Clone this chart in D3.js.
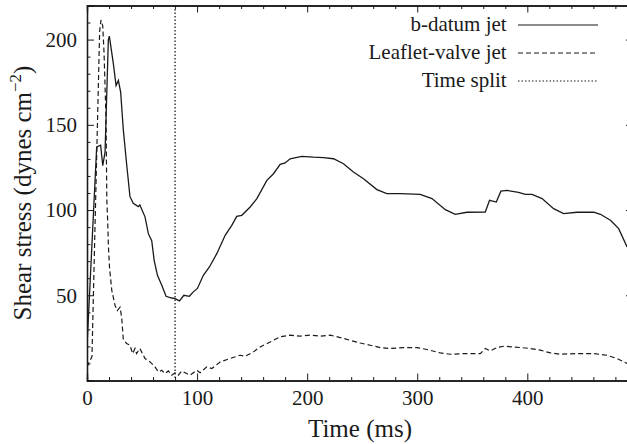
<!DOCTYPE html>
<html>
<head>
<meta charset="utf-8">
<script src="https://cdn.jsdelivr.net/npm/d3@7"></script>
<style>
  body { margin: 0; background: #fff; }
  svg { display: block; font-family: "Liberation Serif", "Times New Roman", serif; }
</style>
</head>
<body>
<div id="chart"></div>
<script>
// shear stress over time, two jets
const bDatumT = [0, 8.8, 12.4, 14.3, 16.4, 19.4, 20.3, 23.9, 26.4, 28.5, 30.6, 33, 36, 39, 42, 46.6, 48, 52.7, 55.8, 58.8,
  61, 64, 67.9, 71.8, 77, 80, 84, 88, 93, 96.6, 100.3, 105.7, 111.2, 117.9, 125.5, 131.5, 136, 140.6, 148.2, 154.3,
  163.4, 169.4, 175.5, 180, 184.5, 195.2, 205.7, 214.8, 223.9, 233, 242, 251.2, 263.3, 272.4, 284.5, 302.7, 313.4,
  325.5, 334.5, 345.2, 361.8, 365.7, 371.8, 376, 381.5, 392, 398.2, 404.3, 413.4, 423.9, 433, 445.2, 460.3, 466.4,
  475.5, 483, 490.6];
const bDatumV = [20, 137, 138, 126, 134, 200, 202, 186, 173, 176, 169, 147, 127, 108, 104, 102, 103, 96, 86, 82,
  70.5, 61.7, 55.9, 49.4, 48.4, 48, 46.7, 50, 49.4, 52, 54, 61.7, 66.6, 74.4, 85.2, 91, 96.3, 96.9, 101.8, 106.7,
  117.4, 121.3, 126.8, 127.6, 130.1, 131.5, 131, 130.7, 130.1, 127.2, 122.3, 118.4, 112, 109.6, 109.6, 109.2, 106.7,
  100.2, 97.5, 98.7, 98.8, 105.7, 104.7, 111.1, 111.5, 110.4, 109.2, 109.2, 106.7, 100.8, 97.9, 98.7, 98.8, 97.5,
  94, 89.1, 78.3];

const leafletT = [0, 4.5, 8, 11.5, 12.7, 14.3, 15.5, 17.3, 18, 18.7, 19.5, 20.5, 22.5, 25.5, 27.5, 30, 31.5, 33, 36, 39,
  41.5, 43.6, 45, 48, 52.7, 57.3, 61.8, 64.8, 67.9, 70.9, 73.9, 77, 80, 83, 86, 90.6, 93.6, 99.7, 102.7, 108.8,
  113.4, 120.9, 130, 139, 143.6, 151.2, 157.3, 166.4, 175.5, 184.5, 193.6, 202.7, 211.8, 220.9, 230, 239, 248.2,
  257.3, 266.4, 275.5, 287.5, 299.7, 308.8, 320.9, 330, 342.1, 357.3, 361.8, 366.4, 372.4, 378.5, 387.6, 402.7,
  411.8, 420.9, 430, 445.2, 460.3, 472.4, 481.5, 490.6];
const leafletV = [8, 14, 110, 205, 211.5, 208, 192, 153, 106, 95, 78, 66, 53, 44, 41, 43, 37, 24, 21.7, 20.7,
  15.8, 18.8, 15.8, 18.8, 12.9, 10.9, 8, 5, 6, 4.1, 5.6, 3.1, 4.5, 3.1, 5.6, 4.1, 3.1, 6, 4.5, 8,
  7, 10.9, 12.9, 14.8, 14.2, 16.8, 19.7, 22.6, 25.6, 26.6, 26, 26.6, 26, 26.6, 25.2, 23.6, 22,
  20.7, 19.3, 18.8, 19.3, 19.3, 18.2, 16.2, 15.4, 15.8, 15.8, 18.8, 17.4, 19.3, 20.1, 19.7, 18.8,
  17.8, 16.2, 15.4, 15.8, 15.8, 14.8, 12.9, 10];

const timeSplit = 80;
const xTicks = [0, 100, 200, 300, 400];
const yTicks = [50, 100, 150, 200];
const legendLabels = ["b-datum jet", "Leaflet-valve jet", "Time split"];

const width = 627, height = 444;
const margin = {top: 5.5, left: 87, right: -6, bottom: 63.5};
const innerW = width - margin.left - margin.right;
const innerH = height - margin.top - margin.bottom;
const ink = "#1a1a1a";

const svg = d3.select("#chart").append("svg")
  .attr("width", width)
  .attr("height", height);

const x = d3.scaleLinear().domain([0, 496]).range([0, innerW]);
const y = d3.scaleLinear().domain([0, 220]).range([innerH, 0]);

const g = svg.append("g").attr("transform", `translate(${margin.left},${margin.top})`);

g.append("clipPath").attr("id", "clip")
  .append("rect").attr("width", innerW).attr("height", innerH);

// minor ticks
const xMinor = d3.range(0, 497, 20).filter(d => d % 100 !== 0);
const yMinor = d3.range(0, 221, 10).filter(d => d % 50 !== 0);

function styleAxis(sel) {
  sel.select(".domain").attr("stroke", ink).attr("stroke-width", 1.3);
  sel.selectAll(".tick line").attr("stroke", ink).attr("stroke-width", 1);
  sel.selectAll(".tick text").attr("fill", ink).attr("font-size", 21)
    .attr("font-family", '"Liberation Serif", "Times New Roman", serif');
}

// bottom
g.append("g").attr("transform", `translate(0,${innerH})`)
  .call(d3.axisBottom(x).tickValues(xMinor).tickSize(-3.5).tickFormat(""))
  .call(styleAxis);
g.append("g").attr("transform", `translate(0,${innerH})`)
  .call(d3.axisBottom(x).tickValues(xTicks).tickSize(-7).tickPadding(10).tickFormat(d3.format("d")))
  .call(styleAxis);
// top
g.append("g")
  .call(d3.axisTop(x).tickValues(xMinor).tickSize(-3.5).tickFormat(""))
  .call(styleAxis);
g.append("g")
  .call(d3.axisTop(x).tickValues(xTicks).tickSize(-7).tickFormat(""))
  .call(styleAxis);
// left
g.append("g")
  .call(d3.axisLeft(y).tickValues(yMinor).tickSize(-3.5).tickFormat(""))
  .call(styleAxis);
g.append("g")
  .call(d3.axisLeft(y).tickValues(yTicks).tickSize(-7).tickPadding(10).tickFormat(d3.format("d")))
  .call(styleAxis);
// right
g.append("g").attr("transform", `translate(${innerW},0)`)
  .call(d3.axisRight(y).tickValues(yMinor).tickSize(-3.5).tickFormat(""))
  .call(styleAxis);
g.append("g").attr("transform", `translate(${innerW},0)`)
  .call(d3.axisRight(y).tickValues(yTicks).tickSize(-7).tickFormat(""))
  .call(styleAxis);

const line = d3.line().x(d => x(d[0])).y(d => y(d[1]));

const plot = g.append("g").attr("clip-path", "url(#clip)");

// time split marker
plot.append("line")
  .attr("x1", x(timeSplit)).attr("x2", x(timeSplit))
  .attr("y1", 0).attr("y2", innerH)
  .attr("stroke", ink).attr("stroke-width", 1.3)
  .attr("stroke-dasharray", "1.5,2");

plot.append("path")
  .datum(leafletT.map((t, i) => [t, leafletV[i]]))
  .attr("d", line)
  .attr("fill", "none").attr("stroke", ink).attr("stroke-width", 1.2)
  .attr("stroke-dasharray", "5,3");

plot.append("path")
  .datum(bDatumT.map((t, i) => [t, bDatumV[i]]))
  .attr("d", line)
  .attr("fill", "none").attr("stroke", ink).attr("stroke-width", 1.3);

// legend
const dashes = [null, "5,3", "1.5,2"];
const legend = g.append("g");
legendLabels.forEach((lab, i) => {
  const ly = 19.5 + i * 28;
  legend.append("text")
    .attr("x", 506.7 - margin.left).attr("y", ly + 6)
    .attr("text-anchor", "end").attr("font-size", 21).attr("fill", ink)
    .text(lab);
  legend.append("line")
    .attr("x1", 518 - margin.left).attr("x2", 598 - margin.left)
    .attr("y1", ly).attr("y2", ly)
    .attr("stroke", ink).attr("stroke-width", 1.2)
    .attr("stroke-dasharray", dashes[i]);
});

// axis titles
svg.append("text")
  .attr("x", margin.left + innerW / 2).attr("y", 436.5)
  .attr("text-anchor", "middle").attr("font-size", 25).attr("fill", ink)
  .text("Time (ms)");

const yt = svg.append("text")
  .attr("transform", `translate(31,${margin.top + innerH / 2}) rotate(-90)`)
  .attr("text-anchor", "middle").attr("font-size", 25).attr("fill", ink);
yt.append("tspan").text("Shear stress (dynes cm");
yt.append("tspan").attr("font-size", 17).attr("dy", -10).text("\u22122");
yt.append("tspan").attr("dy", 10).text(")");
</script>
</body>
</html>
